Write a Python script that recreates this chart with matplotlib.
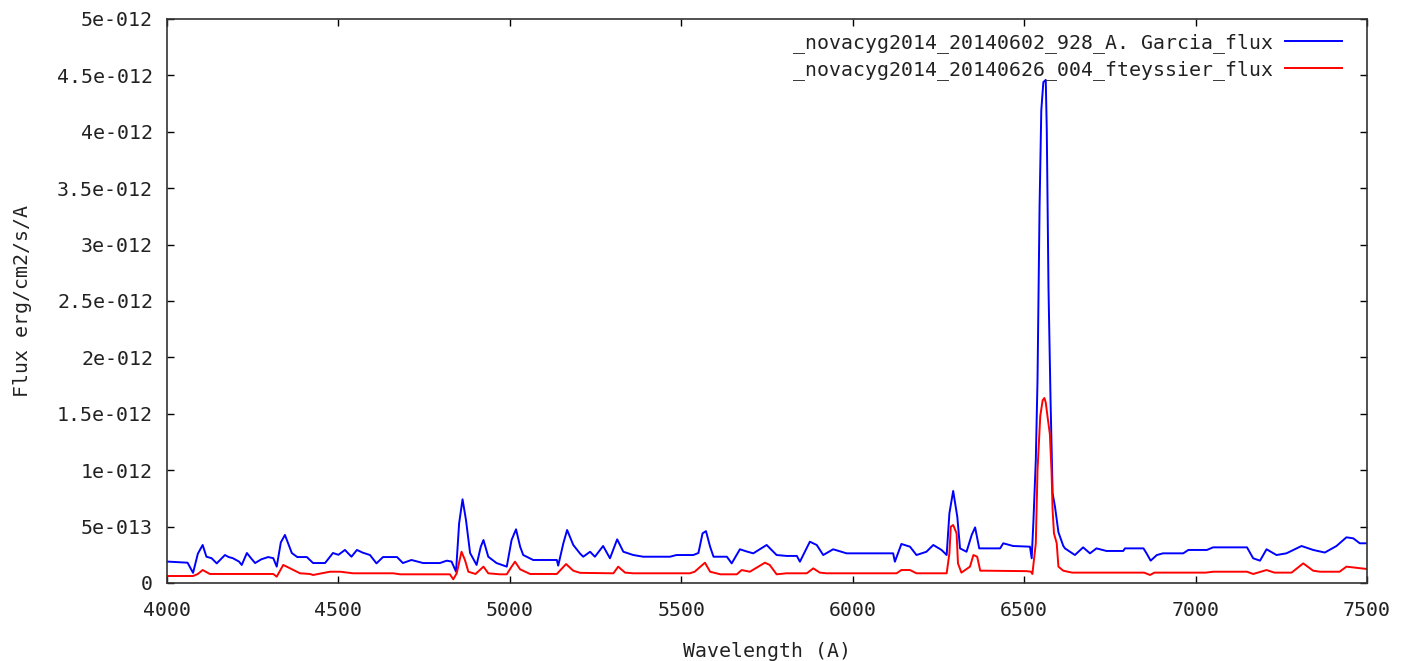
import numpy as np
import matplotlib.pyplot as plt

# wavelengths (A) and fluxes (1e-13 erg/cm2/s/A)
blue_wl = [4000, 4030, 4060, 4076, 4090, 4104, 4115, 4130, 4145, 4160, 4169, 4180, 4192, 4210, 4218,
           4233, 4245, 4257, 4275, 4295, 4310, 4320, 4332, 4344, 4364, 4380, 4408, 4426, 4461, 4484,
           4500, 4519, 4538, 4554, 4570, 4592, 4611, 4630, 4671, 4688, 4713, 4747, 4796, 4816, 4830,
           4843, 4852, 4862, 4872, 4884, 4903, 4915, 4923, 4937, 4961, 4991, 5005, 5018, 5030, 5039,
           5068, 5137, 5141, 5156, 5167, 5185, 5205, 5214, 5234, 5248, 5272, 5292, 5313, 5331, 5360,
           5389, 5467, 5486, 5535, 5550, 5562, 5572, 5584, 5594, 5633, 5647, 5671, 5690, 5710, 5749,
           5778, 5807, 5837, 5846, 5875, 5895, 5914, 5943, 5982, 6080, 6118, 6123, 6142, 6167, 6186,
           6215, 6235, 6259, 6274, 6282, 6293, 6305, 6313, 6332, 6347, 6357, 6369, 6390, 6430, 6439,
           6468, 6517, 6522, 6527, 6534, 6539, 6545, 6550, 6556, 6563, 6566, 6571, 6577, 6583, 6590,
           6600, 6614, 6619, 6648, 6672, 6692, 6711, 6740, 6789, 6794, 6848, 6857, 6869, 6887, 6905,
           6964, 6979, 7033, 7051, 7150, 7168, 7188, 7207, 7236, 7265, 7309, 7343, 7377, 7411, 7440,
           7460, 7479, 7500]
blue_flux = [1.9, 1.85, 1.8, 0.9, 2.6, 3.37, 2.33, 2.2, 1.74, 2.2, 2.48, 2.3, 2.2, 1.9, 1.6,
             2.66, 2.2, 1.77, 2.1, 2.3, 2.2, 1.45, 3.6, 4.26, 2.66, 2.3, 2.3, 1.77, 1.77, 2.66,
             2.5, 2.93, 2.33, 2.93, 2.7, 2.48, 1.74, 2.3, 2.3, 1.77, 2.04, 1.77, 1.77, 1.98, 1.9,
             1.0, 5.29, 7.42, 5.59, 2.66, 1.6, 3.2, 3.81, 2.33, 1.77, 1.45, 3.81, 4.76, 3.22, 2.48,
             2.04, 2.04, 1.54, 3.52, 4.7, 3.37, 2.6, 2.33, 2.77, 2.33, 3.28, 2.19, 3.87, 2.77, 2.48,
             2.33, 2.33, 2.48, 2.48, 2.66, 4.4, 4.6, 3.22, 2.33, 2.33, 1.74, 2.99, 2.8, 2.63, 3.37,
             2.48, 2.4, 2.4, 1.89, 3.66, 3.37, 2.48, 2.99, 2.63, 2.63, 2.63, 1.89, 3.46, 3.22, 2.48,
             2.77, 3.37, 2.93, 2.48, 6.18, 8.16, 5.88, 3.07, 2.77, 4.26, 4.93, 3.07, 3.07, 3.07, 3.52,
             3.28, 3.22, 2.19, 5.43, 10.9, 18.0, 33.4, 41.9, 44.4, 44.6, 40.2, 26.2, 16.2, 7.95, 6.76,
             4.5, 3.3, 3.07, 2.48, 3.16, 2.63, 3.07, 2.84, 2.84, 3.07, 3.07, 2.63, 1.98, 2.48, 2.63,
             2.63, 2.93, 2.93, 3.16, 3.16, 2.19, 1.98, 2.99, 2.48, 2.63, 3.28, 2.93, 2.7, 3.28, 4.05,
             3.96, 3.52, 3.52]

red_wl = [4000, 4040, 4076, 4090, 4104, 4125, 4163, 4310, 4320, 4339, 4359, 4388, 4417, 4426, 4475,
          4505, 4543, 4660, 4680, 4825, 4835, 4845, 4859, 4869, 4879, 4900, 4923, 4937, 4971, 4991,
          5005, 5015, 5030, 5059, 5137, 5164, 5185, 5205, 5302, 5316, 5336, 5360, 5525, 5539, 5569,
          5584, 5614, 5662, 5676, 5700, 5744, 5758, 5778, 5807, 5866, 5885, 5904, 5924, 6128, 6142,
          6167, 6186, 6274, 6282, 6286, 6293, 6303, 6307, 6317, 6342, 6352, 6363, 6372, 6390, 6507,
          6520, 6524, 6534, 6539, 6547, 6554, 6559, 6563, 6568, 6575, 6580, 6583, 6587, 6595, 6600,
          6614, 6640, 6850, 6867, 6880, 7030, 7051, 7150, 7168, 7207, 7230, 7280, 7314, 7343, 7363,
          7420, 7440, 7500]
red_flux = [0.62, 0.62, 0.62, 0.8, 1.15, 0.8, 0.8, 0.8, 0.56, 1.6, 1.3, 0.86, 0.8, 0.71, 1.0,
            1.0, 0.86, 0.86, 0.77, 0.77, 0.33, 0.86, 2.77, 2.04, 1.0, 0.8, 1.45, 0.86, 0.77, 0.77,
            1.45, 1.89, 1.21, 0.8, 0.8, 1.68, 1.09, 0.9, 0.86, 1.45, 0.92, 0.86, 0.86, 1.0, 1.8,
            1.0, 0.77, 0.77, 1.15, 1.0, 1.8, 1.6, 0.77, 0.86, 0.86, 1.3, 0.92, 0.86, 0.86, 1.15,
            1.15, 0.86, 0.86, 2.63, 4.99, 5.14, 4.4, 1.74, 0.92, 1.45, 2.48, 2.33, 1.09, 1.09, 1.05,
            1.0, 0.8, 3.52, 10.0, 14.8, 16.2, 16.4, 16.0, 14.8, 13.2, 9.8, 6.47, 4.4, 3.52, 1.45,
            1.09, 0.92, 0.92, 0.71, 0.92, 0.92, 1.0, 1.0, 0.8, 1.15, 0.92, 0.92, 1.74, 1.09, 1.0,
            1.0, 1.45, 1.24]

blue_label = '_novacyg2014_20140602_928_A. Garcia_flux'
red_label = '_novacyg2014_20140626_004_fteyssier_flux'

x_ticks = [4000, 4500, 5000, 5500, 6000, 6500, 7000, 7500]
y_ticks = [0, 5e-13, 1e-12, 1.5e-12, 2e-12, 2.5e-12, 3e-12, 3.5e-12, 4e-12, 4.5e-12, 5e-12]
y_labels = ['0', '5e-013', '1e-012', '1.5e-012', '2e-012', '2.5e-012', '3e-012',
            '3.5e-012', '4e-012', '4.5e-012', '5e-012']

plt.rcParams['font.family'] = 'DejaVu Sans Mono'
plt.rcParams['font.size'] = 14.3

fig = plt.figure(figsize=(14.09, 6.61), dpi=100)
ax = fig.add_axes([167 / 1409, 1 - 583 / 661, 1200 / 1409, 564 / 661])

l1, = ax.plot(blue_wl, np.array(blue_flux) * 1e-13, color='#0000ff', lw=1.4)
l2, = ax.plot(red_wl, np.array(red_flux) * 1e-13, color='#ff0000', lw=1.4)

ax.set_xlim(4000, 7500)
ax.set_ylim(0, 5e-12)
ax.set_xticks(x_ticks)
ax.set_yticks(y_ticks)
ax.set_yticklabels(y_labels)
ax.tick_params(direction='in', length=5, width=1, top=True, right=True,
               labelcolor='#222222')
ax.tick_params(axis='y', pad=10)
ax.tick_params(axis='x', pad=13)
for sp in ax.spines.values():
    sp.set_linewidth(1.2)
    sp.set_color('#333333')

ax.set_xlabel('Wavelength (A)', labelpad=16, color='#222222')
ax.set_ylabel('Flux erg/cm2/s/A', labelpad=18, color='#222222')

# labels start with "_" so pass handles explicitly
ax.legend([l1, l2], [blue_label, red_label], loc='upper right', markerfirst=False,
          frameon=False, handlelength=2.9, handletextpad=0.6, labelspacing=0.35,
          borderaxespad=0.2, bbox_to_anchor=(0.9895, 0.996), labelcolor='#222222')

fig.savefig('out.png', dpi=100)
